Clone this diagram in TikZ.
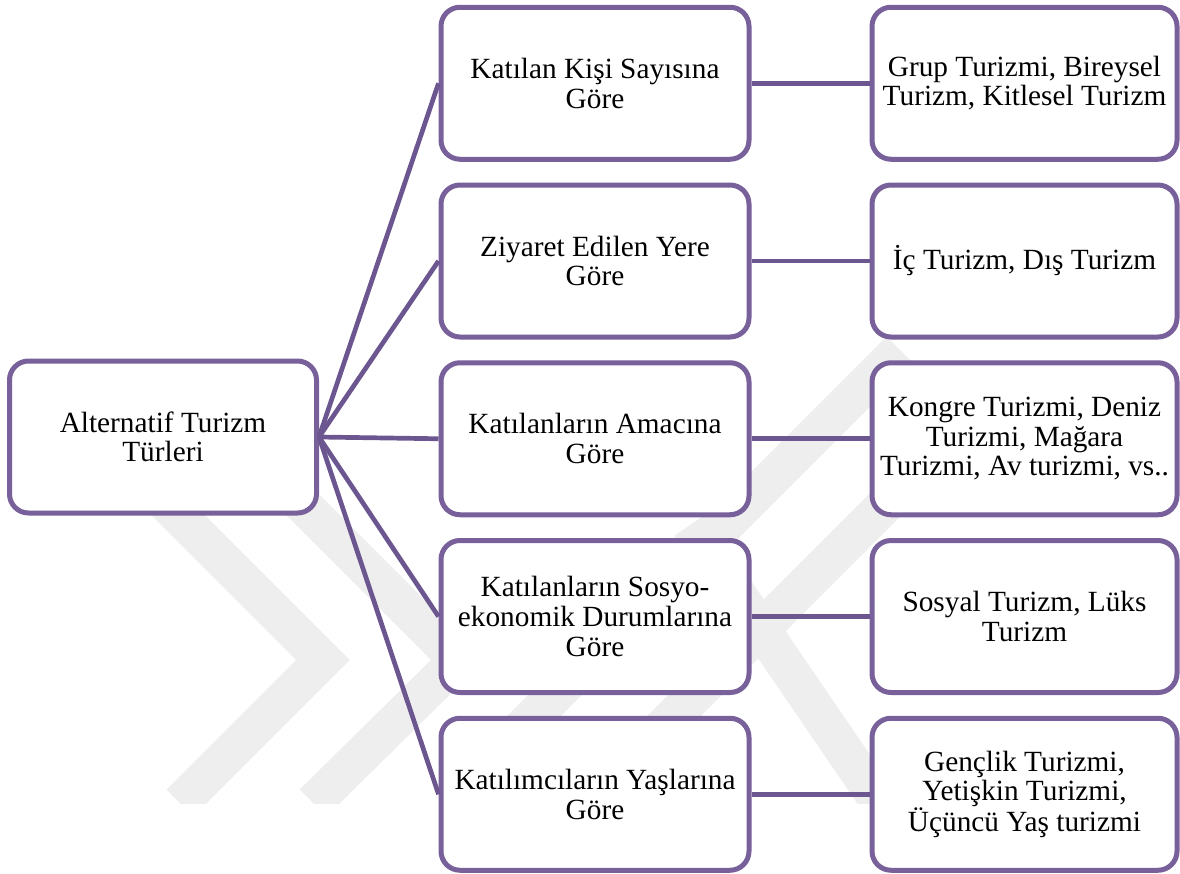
\documentclass[tikz,border=0pt]{standalone}
\usepackage{fontspec}
\setmainfont{Liberation Serif}
\definecolor{boxpurple}{HTML}{78609A}
\definecolor{linepurple}{HTML}{6C5690}
\definecolor{wmgray}{HTML}{EEEEEE}
\tikzset{
  tbox/.style={draw=boxpurple, line width=5pt, fill=white, rounded corners=19pt,
    minimum height=152pt, align=center, inner sep=2pt,
    font=\fontsize{29.3}{29.6}\selectfont},
  leftbox/.style={tbox, minimum width=307pt},
  midbox/.style={tbox, minimum width=308pt},
  rightbox/.style={tbox, minimum width=305pt},
  conn/.style={draw=linepurple, line width=4.7pt},
  wm/.style={draw=wmgray, line width=38pt, line join=miter}
}
\begin{document}
\begin{tikzpicture}[x=1pt,y=-1pt]
\useasboundingbox (0,0) rectangle (1180,873);
% watermark
\begin{scope}
\clip (0,0) rectangle (1180,803);
\draw[wm] (100,437) -- (323,660) -- (180,803);
\draw[wm] (235,437) -- (458,660) -- (313,803);
\draw[wm] (447,803) -- (900,350);
\draw[wm] (587,803) -- (960,430);
\draw[wm] (690,525) -- (880,803);
\end{scope}
% nodes
\node[leftbox] (root) at (163,437) {Alternatif Turizm\\Türleri};
\node[midbox] (m1) at (595,83.25) {Katılan Kişi Sayısına\\Göre};
\node[midbox] (m2) at (595,261) {Ziyaret Edilen Yere\\Göre};
\node[midbox] (m3) at (595,438.75) {Katılanların Amacına\\Göre};
\node[midbox] (m4) at (595,616.5) {Katılanların Sosyo-\\ekonomik Durumlarına\\Göre};
\node[midbox] (m5) at (595,794.25) {Katılımcıların Yaşlarına\\Göre};
\node[rightbox] (r1) at (1024.5,83.25) {Grup Turizmi, Bireysel\\Turizm, Kitlesel Turizm};
\node[rightbox] (r2) at (1024.5,261) {İç Turizm, Dış Turizm};
\node[rightbox] (r3) at (1024.5,438.75) {Kongre Turizmi, Deniz\\Turizmi, Mağara\\Turizmi, Av turizmi, vs..};
\node[rightbox] (r4) at (1024.5,616.5) {Sosyal Turizm, Lüks\\Turizm};
\node[rightbox] (r5) at (1024.5,794.25) {Gençlik Turizmi,\\Yetişkin Turizmi,\\Üçüncü Yaş turizmi};
% connectors
\foreach \i in {1,...,5}{
  \draw[conn] (root.east) -- (m\i.west);
  \draw[conn] (m\i.east) -- (r\i.west);
}
\end{tikzpicture}
\end{document}
